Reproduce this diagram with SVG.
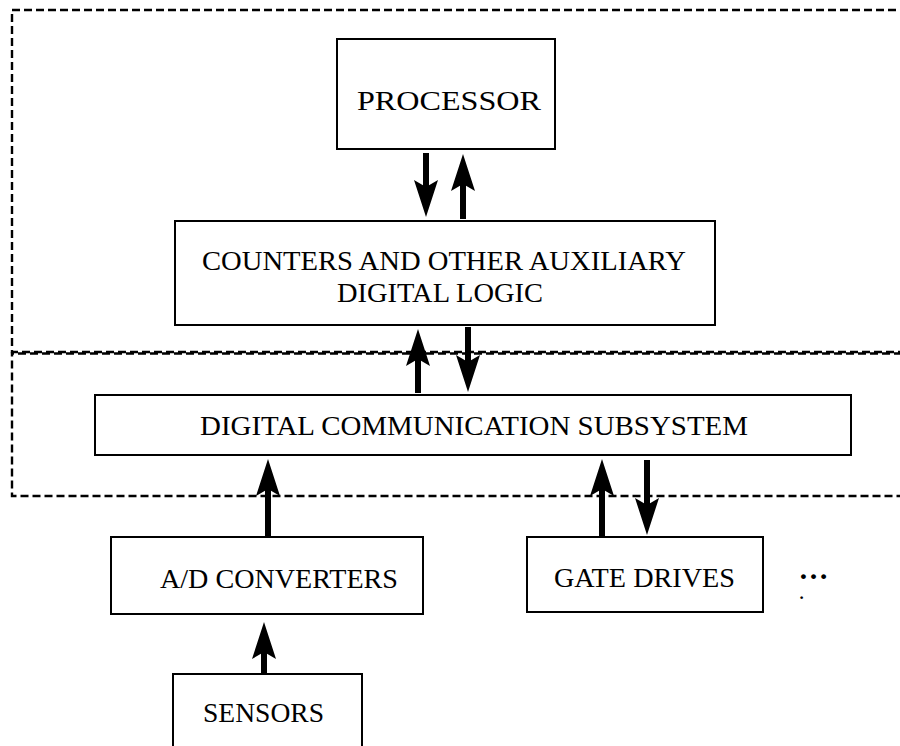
<svg xmlns="http://www.w3.org/2000/svg" width="900" height="746" viewBox="0 0 900 746">
  <style>
    .box { fill: #ffffff; stroke: #000000; stroke-width: 2; }
    .zone { fill: none; stroke: #000000; stroke-width: 2.4; stroke-dasharray: 8 4; }
    .lbl { font-family: "Liberation Serif", "Times New Roman", serif; font-size: 27px; fill: #000000; }
    .arr { fill: none; stroke: #000000; stroke-width: 6; marker-end: url(#ah); }
  </style>
  <defs>
    <marker id="ah" markerUnits="userSpaceOnUse" markerWidth="37" markerHeight="24" viewBox="0 0 37 24" refX="7" refY="12" orient="auto">
      <path d="M0,0 L37,12 L0,24 L7,12 Z" fill="#000000"/>
    </marker>
  </defs>
  <rect width="900" height="746" fill="#ffffff"/>

  <g id="zones">
    <rect class="zone" x="12" y="10" width="900" height="342"/>
    <rect class="zone" x="12" y="353.5" width="900" height="142.5" stroke-dashoffset="6"/>
  </g>

  <g id="processor">
    <rect class="box" x="337" y="39" width="218" height="110"/>
    <text class="lbl" x="449" y="110" text-anchor="middle" font-size="32" textLength="184" lengthAdjust="spacingAndGlyphs">PROCESSOR</text>
  </g>

  <g id="counters">
    <rect class="box" x="175" y="221" width="540" height="104"/>
    <text class="lbl" x="444" y="270" text-anchor="middle" font-size="30" textLength="484" lengthAdjust="spacingAndGlyphs">COUNTERS AND OTHER AUXILIARY</text>
    <text class="lbl" x="440" y="302" text-anchor="middle" font-size="30" textLength="206" lengthAdjust="spacingAndGlyphs">DIGITAL LOGIC</text>
  </g>

  <g id="comm">
    <rect class="box" x="95" y="395" width="756" height="60"/>
    <text class="lbl" x="474" y="435" text-anchor="middle" textLength="548" lengthAdjust="spacingAndGlyphs">DIGITAL COMMUNICATION SUBSYSTEM</text>
  </g>

  <g id="adc">
    <rect class="box" x="111" y="537" width="312" height="77"/>
    <text class="lbl" x="279" y="588" text-anchor="middle" textLength="238" lengthAdjust="spacingAndGlyphs">A/D CONVERTERS</text>
  </g>

  <g id="gate">
    <rect class="box" x="527" y="537" width="236" height="75"/>
    <text class="lbl" x="644.5" y="587" text-anchor="middle" textLength="181" lengthAdjust="spacingAndGlyphs">GATE DRIVES</text>
  </g>

  <g id="more">
    <text class="lbl" font-weight="bold"><tspan x="798.5" y="579" font-size="30">…</tspan><tspan x="799.5" y="599" font-size="17">.</tspan></text>
  </g>

  <g id="sensors">
    <rect class="box" x="173" y="674" width="189" height="90"/>
    <text class="lbl" x="263.5" y="722" text-anchor="middle" textLength="121" lengthAdjust="spacingAndGlyphs">SENSORS</text>
  </g>

  <g id="connectors">
    <line class="arr" x1="426" y1="153" x2="426" y2="187"/>
    <line class="arr" x1="463" y1="219" x2="463" y2="184"/>
    <line class="arr" x1="418" y1="393" x2="418" y2="359"/>
    <line class="arr" x1="468" y1="327" x2="468" y2="362"/>
    <line class="arr" x1="268" y1="537" x2="268" y2="489"/>
    <line class="arr" x1="602" y1="537" x2="602" y2="489"/>
    <line class="arr" x1="647" y1="460" x2="647" y2="505"/>
    <line class="arr" x1="264" y1="674" x2="264" y2="652"/>
  </g>
</svg>
